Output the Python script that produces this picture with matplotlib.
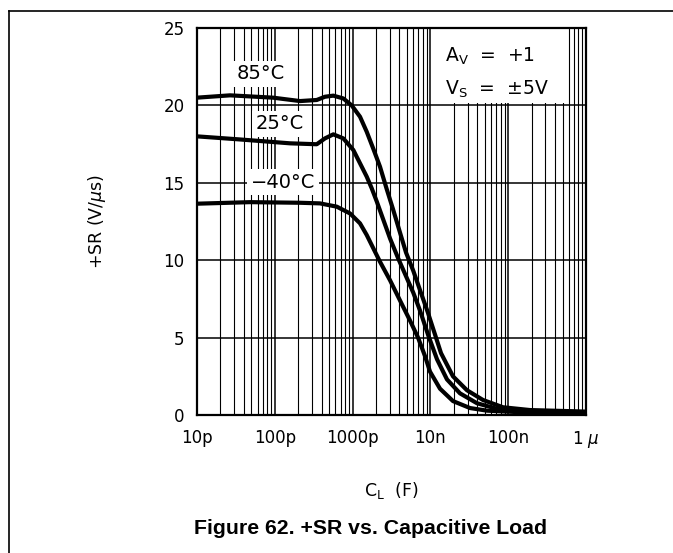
import matplotlib
matplotlib.use("Agg")
import matplotlib.pyplot as plt
from matplotlib.lines import Line2D
from matplotlib.ticker import LogLocator, NullFormatter

# ── Data (capacitance in pF, slew rate in V/us) ──────────────
cap_85 = [10, 26.6, 94.8, 211, 346, 442, 565, 759, 973, 1245, 1518, 1845, 2250,
          2742, 3305, 3948, 4856, 6040, 7350, 9310, 11460, 13680, 19500, 29510,
          47400, 85700, 190500, 1e6]
sr_85 = [20.5, 20.65, 20.5, 20.28, 20.35, 20.56, 20.63, 20.45, 20.0, 19.27, 18.3,
         17.2, 16.04, 14.6, 13.3, 12.0, 10.5, 9.3, 8.07, 6.6, 5.2, 4.0, 2.5, 1.6,
         0.97, 0.5, 0.32, 0.22]

cap_25 = [10, 35.7, 157, 346, 442, 565, 759, 1021, 1245, 1518, 1759, 2042, 3030,
          3865, 6026, 7350, 9310, 12160, 16330, 23990, 39700, 71780, 190500, 1e6]
sr_25 = [18.0, 17.8, 17.55, 17.49, 17.87, 18.13, 17.87, 17.12, 16.26, 15.4, 14.65,
         13.8, 11.4, 10.1, 7.9, 6.75, 5.2, 3.6, 2.3, 1.4, 0.76, 0.4, 0.25, 0.18]

cap_m40 = [10, 48, 211, 381, 625, 927, 1245, 1518, 1845, 2250, 3030, 4066, 5470,
           6935, 8530, 9890, 13280, 19500, 32280, 53440, 141900, 1e6]
sr_m40 = [13.65, 13.75, 13.71, 13.67, 13.46, 13.02, 12.38, 11.63, 10.77, 9.9, 8.7,
          7.4, 6.1, 5.0, 3.8, 2.8, 1.7, 0.9, 0.45, 0.28, 0.18, 0.12]

xticks = [1e-11, 1e-10, 1e-9, 1e-8, 1e-7, 1e-6]
xtick_labels = ["10p", "100p", "1000p", "10n", "100n", r"1 $\mu$"]
yticks = [0, 5, 10, 15, 20, 25]

# ── Figure ───────────────────────────────────────────────────
fig = plt.figure(figsize=(6.73, 5.53), dpi=100)
ax = fig.add_axes([197 / 673, 1 - 415 / 553, 389 / 673, 387 / 553])

for cap, sr in [(cap_85, sr_85), (cap_25, sr_25), (cap_m40, sr_m40)]:
    ax.plot([c * 1e-12 for c in cap], sr, color="black", linewidth=3.0,
            solid_joinstyle="round", solid_capstyle="round", zorder=3)

ax.set_xscale("log")
ax.set_xlim(1e-11, 1e-6)
ax.set_ylim(0, 25)
ax.set_xticks(xticks)
ax.set_xticklabels(xtick_labels)
ax.xaxis.set_minor_locator(LogLocator(base=10, subs=range(2, 10), numticks=20))
ax.xaxis.set_minor_formatter(NullFormatter())
ax.set_yticks(yticks)
ax.tick_params(axis="both", which="both", length=0, labelsize=12)
ax.tick_params(axis="x", pad=10)
ax.tick_params(axis="y", pad=9)
ax.grid(True, which="major", color="black", linewidth=1.1)
ax.grid(True, which="minor", axis="x", color="black", linewidth=0.8)
for s in ax.spines.values():
    s.set_linewidth(1.6)

ax.set_ylabel(r"+SR (V/$\mu$s)", fontsize=12.5, labelpad=40)
ax.set_xlabel(r"C$_\mathregular{L}$  (F)", fontsize=12.5, labelpad=22)

# curve labels with white backgrounds
box = dict(facecolor="white", edgecolor="none", pad=2.5)
ax.text(6.65e-11, 22.05, "85°C", fontsize=14, ha="center", va="center", bbox=box, zorder=4)
ax.text(1.17e-10, 18.8, "25°C", fontsize=14, ha="center", va="center", bbox=box, zorder=4)
ax.text(1.27e-10, 15.05, "\u221240°C", fontsize=14, ha="center", va="center", bbox=box, zorder=4)

# conditions box
ax.fill_between([1.05e-8, 5.4e-7], 20.15, 25, color="white", zorder=2, linewidth=0)
ax.text(0.637, 0.955, r"A$_\mathregular{V}$  =  +1", transform=ax.transAxes,
        fontsize=13.5, ha="left", va="top", zorder=4)
ax.text(0.637, 0.87, r"V$_\mathregular{S}$  =  ±5V", transform=ax.transAxes,
        fontsize=13.5, ha="left", va="top", zorder=4)

fig.text(371 / 673, 1 - 528 / 553, "Figure 62. +SR vs. Capacitive Load",
         fontsize=15.3, fontweight="bold", family="Liberation Sans",
         ha="center", va="center")

# outer frame
fig.add_artist(Line2D([8.5 / 673, 8.5 / 673], [0, 1 - 10.5 / 553],
                      transform=fig.transFigure, color="black", linewidth=1.2))
fig.add_artist(Line2D([8.5 / 673, 1], [1 - 10.5 / 553, 1 - 10.5 / 553],
                      transform=fig.transFigure, color="black", linewidth=1.2))

fig.savefig("out.png", dpi=100)
